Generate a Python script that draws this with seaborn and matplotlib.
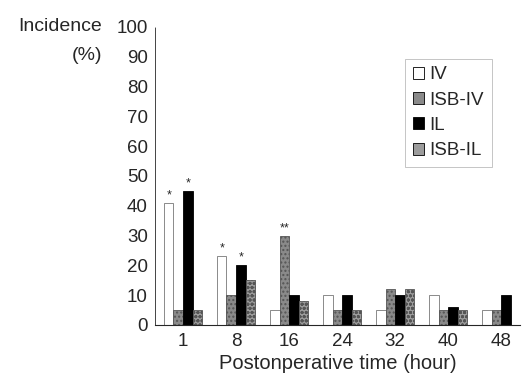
import pandas as pd
import numpy as np
import seaborn as sns
from matplotlib import pyplot as plt

times = ["1", "8", "16", "24", "32", "40", "48"]
groups = ["IV", "ISB-IV", "IL", "ISB-IL"]
iv = [41, 23, 5, 10, 5, 10, 5]
isb_iv = [5, 10, 30, 5, 12, 5, 5]
il = [45, 20, 10, 10, 10, 6, 10]
isb_il = [5, 15, 8, 5, 12, 5, 0]
# significance marks: (group, time index, mark)
marks = [("IV", 0, "*"), ("IL", 0, "*"), ("IV", 1, "*"), ("IL", 1, "*"), ("ISB-IV", 2, "**")]

df = pd.DataFrame({"time": times * 4,
                   "group": np.repeat(groups, len(times)),
                   "value": iv + isb_iv + il + isb_il})

sns.set_style("white")
plt.rcParams['font.family'] = ['Liberation Sans', 'DejaVu Sans']

fig = plt.figure(figsize=(5.27, 3.85), dpi=100)
ax = fig.add_axes([0.294, 0.156, 0.693, 0.774])

palette = {"IV": "white", "ISB-IV": "#8a8a8a", "IL": "black", "ISB-IL": "#9c9c9c"}
sns.barplot(data=df, x="time", y="value", hue="group", order=times, hue_order=groups,
            palette=palette, width=0.72, edgecolor="black", linewidth=0.6, ax=ax, saturation=1)

hatches = {"ISB-IV": "....", "ISB-IL": "oooo"}
for cont, g in zip(ax.containers, groups):
    for bar in cont:
        if g in hatches:
            bar.set_hatch(hatches[g])
            bar.set_edgecolor("#555555")
        if g == "IV":
            bar.set_edgecolor("#777777")

for g, ti, m in marks:
    bar = ax.containers[groups.index(g)][ti]
    ax.text(bar.get_x() + bar.get_width() / 2, bar.get_height() + 0.5, m,
            ha="center", va="bottom", fontsize=9)

ax.set_ylim(0, 100)
ax.set_xlim(-0.53, 6.36)
ax.set_yticks(range(0, 101, 10))
ax.tick_params(length=0, labelsize=13.5, pad=5)
ax.tick_params(axis="x", pad=6)
ax.set_xlabel("Postonperative time (hour)", fontsize=14.5, labelpad=3)
ax.set_ylabel("")
for s in ["top", "right"]:
    ax.spines[s].set_visible(False)
ax.spines["left"].set_linewidth(0.6)
ax.spines["left"].set_linestyle((0, (1, 1)))
ax.spines["bottom"].set_linewidth(0.8)

fig.text(0.194, 0.930, "Incidence", ha="right", va="center", fontsize=14)
fig.text(0.194, 0.857, "(%)", ha="right", va="center", fontsize=14)

leg = ax.legend(loc="upper left", bbox_to_anchor=(0.66, 0.925), fontsize=13.5,
                handlelength=0.6, handleheight=0.6, handletextpad=0.3,
                borderpad=0.4, labelspacing=0.45, fancybox=False, frameon=True)
leg.get_frame().set_edgecolor("#aaaaaa")
leg.get_frame().set_linewidth(0.6)

fig.savefig("out.png", dpi=100)
